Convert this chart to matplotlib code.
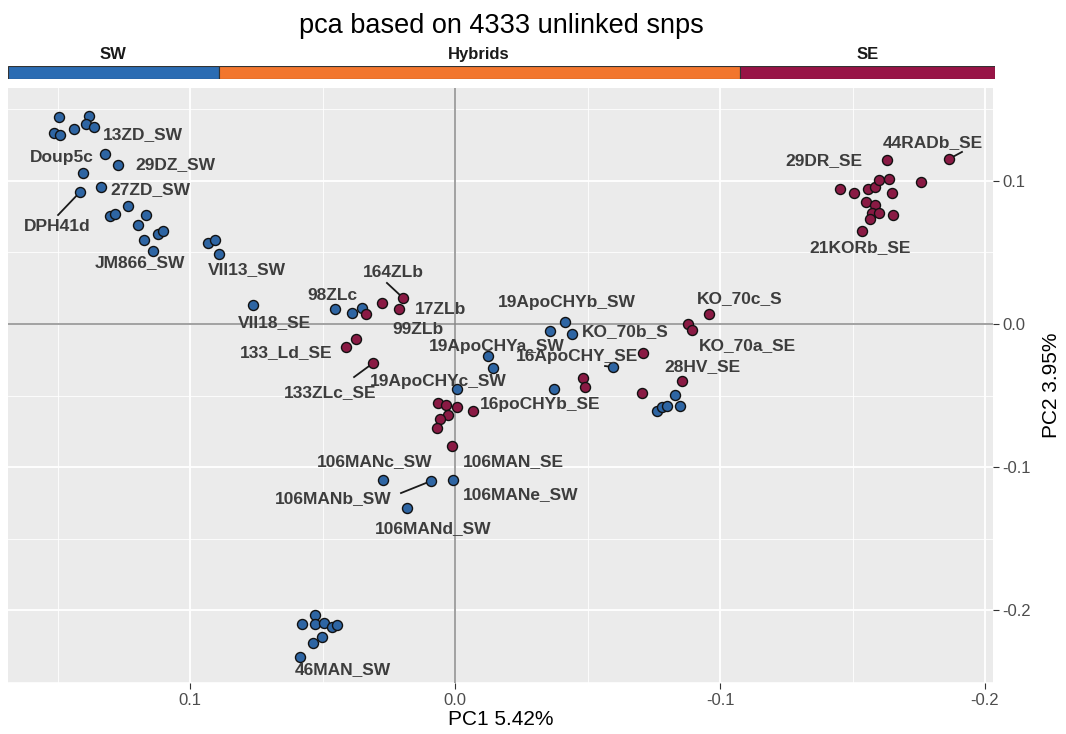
import matplotlib
matplotlib.use("Agg")
import matplotlib.pyplot as plt
from matplotlib.ticker import MultipleLocator
import numpy as np

plt.rcParams['font.family'] = ['Liberation Sans', 'DejaVu Sans']

# PCA scores
pc1_sw = [0.1494, 0.1381, 0.1392, 0.1362, 0.1438, 0.1513, 0.1491, 0.1321, 0.1272, 0.1404,
          0.1336, 0.1415, 0.1234, 0.1302, 0.1283, 0.1166, 0.1196, 0.1121, 0.1102, 0.1174,
          0.1140, 0.0932, 0.0906, 0.0891, 0.0762, 0.0453, 0.0389, 0.0351, -0.0125, -0.0143,
          -0.0008, -0.0415, -0.0358, -0.0442, -0.0596, -0.0374, -0.0830, -0.0849, -0.0762, -0.0781,
          -0.0800, 0.0272, 0.0091, 0.0008, 0.0181, 0.0528, 0.0577, 0.0528, 0.0494, 0.0464,
          0.0445, 0.0502, 0.0536, 0.0585]
pc2_sw = [0.1448, 0.1455, 0.1399, 0.1378, 0.1364, 0.1336, 0.1322, 0.1189, 0.1112, 0.1056,
          0.0958, 0.0923, 0.0825, 0.0755, 0.0769, 0.0762, 0.0692, 0.0629, 0.0650, 0.0587,
          0.0510, 0.0566, 0.0587, 0.0490, 0.0133, 0.0105, 0.0077, 0.0112, -0.0224, -0.0308,
          -0.0455, 0.0014, -0.0049, -0.0070, -0.0301, -0.0455, -0.0497, -0.0573, -0.0608, -0.0580,
          -0.0573, -0.1091, -0.1098, -0.1091, -0.1287, -0.2035, -0.2098, -0.2098, -0.2091, -0.2119,
          -0.2105, -0.2189, -0.2231, -0.2329]

pc1_se = [0.0336, 0.0275, 0.0196, 0.0211, 0.0374, 0.0411, 0.0309, 0.0064, 0.0034, -0.0008,
          -0.0068, 0.0026, 0.0057, 0.0068, 0.0011, -0.0709, -0.0483, -0.0491, -0.0706, -0.0857,
          -0.0958, -0.0879, -0.0894, -0.1630, -0.1864, -0.1453, -0.1506, -0.1558, -0.1585, -0.1600,
          -0.1638, -0.1758, -0.1649, -0.1551, -0.1585, -0.1574, -0.1600, -0.1653, -0.1566, -0.1536]
pc2_se = [0.0070, 0.0147, 0.0182, 0.0105, -0.0105, -0.0161, -0.0273, -0.0552, -0.0566, -0.0580,
          -0.0608, -0.0636, -0.0664, -0.0727, -0.0853, -0.0203, -0.0378, -0.0441, -0.0483, -0.0399,
          0.0070, 0.0000, -0.0042, 0.1147, 0.1154, 0.0944, 0.0916, 0.0944, 0.0958, 0.1007,
          0.1014, 0.0993, 0.0916, 0.0853, 0.0832, 0.0776, 0.0776, 0.0762, 0.0734, 0.0650]

# sample labels (text, PC1, PC2 of label centre)
label_text = ["13ZD_SW", "Doup5c", "29DZ_SW", "27ZD_SW", "DPH41d", "JM866_SW", "VII13_SW",
              "164ZLb", "98ZLc", "17ZLb", "VII18_SE", "99ZLb", "133_Ld_SE", "133ZLc_SE",
              "19ApoCHYb_SW", "KO_70b_S", "19ApoCHYa_SW", "16ApoCHY_SE", "19ApoCHYc_SW",
              "16poCHYb_SE", "28HV_SE", "KO_70c_S", "KO_70a_SE", "44RADb_SE", "29DR_SE",
              "21KORb_SE", "106MANc_SW", "106MAN_SE", "106MANb_SW", "106MANe_SW",
              "106MANd_SW", "46MAN_SW"]
label_x = [0.1177, 0.1483, 0.1057, 0.1151, 0.1502, 0.1189, 0.0785,
           0.0234, 0.0464, 0.0053, 0.0683, 0.0140, 0.0638, 0.0472,
           -0.0423, -0.0642, -0.0158, -0.0460, 0.0064,
           -0.0321, -0.0932, -0.1075, -0.1102, -0.1804, -0.1392,
           -0.1528, 0.0302, -0.0219, 0.0460, -0.0249,
           0.0083, 0.0423]
label_y = [0.1322, 0.1164, 0.1114, 0.0937, 0.0685, 0.0427, 0.0378,
           0.0357, 0.0196, 0.0098, 0.0007, -0.0035, -0.0203, -0.0476,
           0.0147, -0.0056, -0.0154, -0.0224, -0.0399,
           -0.0566, -0.0301, 0.0175, -0.0154, 0.1266, 0.1140,
           0.0532, -0.0965, -0.0965, -0.1224, -0.1196,
           -0.1427, -0.2413]

# repel segments (x0, y0, x1, y1)
seg_x0 = [0.1498, 0.0257, 0.0381, -0.0566, -0.1864, 0.0204]
seg_y0 = [0.0762, 0.0287, -0.0371, -0.0294, 0.1154, -0.1182]
seg_x1 = [0.1415, 0.0196, 0.0309, -0.0596, -0.1913, 0.0091]
seg_y1 = [0.0923, 0.0182, -0.0273, -0.0301, 0.1203, -0.1098]

groups = ["SW", "Hybrids", "SE"]
group_edges = [0.1687, 0.0894, -0.1068, -0.203]
group_colors = ["#2b6cb3", "#f2762e", "#981446"]

fig = plt.figure(figsize=(10.66, 7.34), dpi=100)
ax = fig.add_axes([0.0075, 0.0695, 0.924, 0.8106])
ax.set_facecolor("#ebebeb")
for s in ax.spines.values():
    s.set_visible(False)

ax.set_xlim(0.1687, -0.203)
ax.set_ylim(-0.251, 0.165)
ax.xaxis.set_major_locator(MultipleLocator(0.1))
ax.xaxis.set_minor_locator(MultipleLocator(0.05))
ax.yaxis.set_major_locator(MultipleLocator(0.1))
ax.yaxis.set_minor_locator(MultipleLocator(0.05))
ax.grid(which="major", color="white", lw=1.3)
ax.grid(which="minor", color="white", lw=0.6)
ax.set_axisbelow(True)

ax.axhline(0, color="#888888", lw=1.1, zorder=1)
ax.axvline(0, color="#888888", lw=1.1, zorder=1)

ax.yaxis.tick_right()
ax.yaxis.set_label_position("right")
ax.tick_params(which="minor", length=0)
ax.tick_params(which="major", length=4, color="#333333", labelsize=12, labelcolor="#4d4d4d", pad=3)
ax.set_xticks([0.1, 0.0, -0.1, -0.2])
ax.set_xticklabels(["0.1", "0.0", "-0.1", "-0.2"])
ax.set_yticks([0.1, 0.0, -0.1, -0.2])
ax.set_yticklabels(["0.1", "0.0", "-0.1", "-0.2"])
ax.set_xlabel("PC1 5.42%", fontsize=15, labelpad=2)
ax.set_ylabel("PC2 3.95%", fontsize=15, labelpad=8)

for i in range(len(seg_x0)):
    ax.plot([seg_x0[i], seg_x1[i]], [seg_y0[i], seg_y1[i]], color="#1a1a1a", lw=1.3, zorder=2)

ax.scatter(pc1_sw, pc2_sw, s=52, c="#2e65a3", edgecolors="#111111", linewidths=1.0, zorder=3)
ax.scatter(pc1_se, pc2_se, s=52, c="#8a1a44", edgecolors="#111111", linewidths=1.0, zorder=3)

for t, lx, ly in zip(label_text, label_x, label_y):
    ax.text(lx, ly, t, ha="center", va="center", fontsize=12.5, fontweight="bold",
            color="#3d3d3d", zorder=4)

# group strip above the panel
sax = fig.add_axes([0.0075, 0.8924, 0.926, 0.0177])
sax.set_xlim(0.1687, -0.203)
sax.set_ylim(0, 1)
for g, c, a, b in zip(groups, group_colors, group_edges[:-1], group_edges[1:]):
    sax.barh(0.5, b - a, left=a, height=1, color=c, edgecolor="#333333", lw=0.8)
    sax.text((a + b) / 2, 1.3, g, ha="center", va="bottom", fontsize=12,
             fontweight="bold", color="#1a1a1a")
sax.axis("off")

fig.text(0.47, 0.964, "pca based on 4333 unlinked snps", ha="center", va="center", fontsize=19.5)

fig.savefig("out.png", dpi=100)
